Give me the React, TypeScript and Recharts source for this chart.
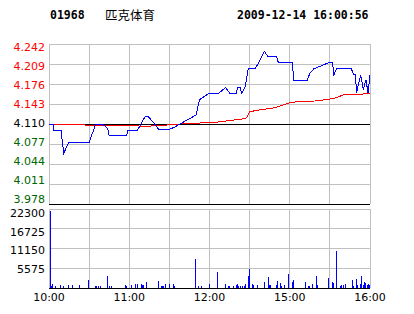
import { Bar, BarChart, CartesianGrid, Line, LineChart, ReferenceLine, XAxis, YAxis } from 'recharts'

const PRE_CLOSE = 4.11

const priceTicks = [3.978, 4.011, 4.044, 4.077, 4.11, 4.143, 4.176, 4.209, 4.242]
const volumeTicks = [0, 5575, 11150, 16725, 22300]
const timeTicks = [0, 30, 60, 90, 120, 150, 180, 210, 240]
const timeLabels = ['10:00', '', '11:00', '', '12:00', '', '15:00', '', '16:00']

// [minute of session, price]
const pricePoints: [number, number][] = [
  [0, 4.11], [3, 4.11], [3.5, 4.099], [9, 4.099], [11, 4.062], [15, 4.08], [30, 4.08],
  [35, 4.11], [40, 4.11], [44, 4.102], [45, 4.091], [58, 4.091], [59, 4.099], [66, 4.099],
  [72, 4.123], [74, 4.123], [79, 4.11], [82, 4.101], [90, 4.101], [94, 4.105], [110, 4.125],
  [112.5, 4.15], [120, 4.161], [127, 4.161], [132, 4.17], [135, 4.161], [140, 4.161],
  [141, 4.17], [143, 4.17], [144, 4.161], [146.5, 4.17], [149, 4.201], [154, 4.201],
  [158, 4.216], [161, 4.23], [163.5, 4.222], [170, 4.222], [171.5, 4.211], [182, 4.211],
  [183, 4.181], [193, 4.181], [195, 4.194], [198, 4.201], [209, 4.211], [212, 4.211],
  [213, 4.191], [215, 4.201], [226, 4.201], [228, 4.191], [229, 4.191], [230, 4.162],
  [231, 4.172], [233, 4.191], [235, 4.167], [237, 4.183], [238.5, 4.161], [240, 4.191],
]

const avgPoints: [number, number][] = [
  [0, 4.11], [26, 4.11], [27, 4.108], [66, 4.108], [68, 4.106], [80, 4.107], [98, 4.11],
  [125, 4.113], [147, 4.119], [148, 4.121], [150, 4.13], [154, 4.132], [169, 4.137],
  [181.5, 4.146], [199, 4.148], [213, 4.152], [220, 4.158], [240, 4.16],
]

// [minute of session, volume]
const volumePoints: [number, number][] = [
  [1, 21800], [2, 600], [3, 1200], [5, 600], [9, 900], [11, 600], [15, 900], [18, 900],
  [23, 900], [30, 2350], [35, 600], [36, 600], [37, 600], [39, 600], [44, 3500],
  [45, 600], [47, 600], [57, 900], [58, 600], [62, 900], [65, 1200], [66, 1200],
  [69, 1200], [70, 900], [71, 900], [73, 1800], [82, 2050], [84, 600], [85, 600],
  [86, 600], [87, 1200], [90, 1200], [93, 1200], [94, 600], [110, 8300], [112, 600],
  [114, 600], [120, 1200], [126, 4500], [132, 1200], [134, 600], [135, 600],
  [138, 600], [140, 900], [141, 1200], [142, 600], [143, 600], [145, 600],
  [146, 600], [147, 1200], [149, 3500], [150, 5450], [152, 1200], [153, 900],
  [156, 900], [161, 1800], [164, 3200], [165, 900], [166, 900], [170, 900],
  [171, 2050], [173, 1500], [174, 600], [176, 900], [179, 4050], [182, 1800],
  [183, 2350], [192, 1800], [194, 600], [195, 600], [197, 1200], [200, 3500],
  [201, 900], [209, 2900], [212, 1800], [213, 1500], [215, 10500], [218, 600],
  [219, 900], [220, 900], [222, 1200], [227, 2350], [228, 600], [230, 2600],
  [231, 900], [233, 1200], [234, 3500], [235, 900], [236, 1800], [237, 1500],
  [238, 900], [239, 1200], [240, 900],
]

const COLORS = {
  up: '#ff0000',
  down: '#006600',
  flat: '#000000',
  price: '#0000ff',
  avg: '#ff0000',
  grid: '#c0c0c0',
  volume: '#0000ff',
}

const FONT = '"DejaVu Sans", Verdana, sans-serif'

const priceData = pricePoints.map(([m, p]) => ({ m, p }))
const avgData = avgPoints.map(([m, a]) => ({ m, a }))
const volumeData = volumePoints.map(([m, v]) => ({ m, v }))

function toneOf(value: number) {
  if (value > PRE_CLOSE + 1e-9) return COLORS.up
  if (value < PRE_CLOSE - 1e-9) return COLORS.down
  return COLORS.flat
}

// labels sit on a slightly tighter pitch than the grid lines
const squeeze = (y: number, top: number, shift: number) => top + shift + (y - top) * 0.95

function PriceTick({ x, y, payload }: any) {
  const v = payload.value as number
  return (
    <text x={x} y={squeeze(y, 44, 3.3)} dy="0.36em" textAnchor="end" fill={toneOf(v)} fontSize={11} fontFamily={FONT}>
      {v.toFixed(3)}
    </text>
  )
}

function PercentTick({ y, payload }: any) {
  const v = payload.value as number
  const pct = ((v - PRE_CLOSE) / PRE_CLOSE) * 100
  const sign = pct > 0.001 ? '+' : pct < -0.001 ? '-' : ''
  const ty = squeeze(y, 44, 3.3)
  const fill = toneOf(v)
  return (
    <g fill={fill} fontSize={11} fontFamily={FONT}>
      <text x={371} y={ty} dy="0.36em">{sign}</text>
      <text x={sign ? 377 : 379} y={ty} dy="0.36em">{Math.abs(pct).toFixed(2)}</text>
      <text x={409} y={ty} dy="0.36em">%</text>
    </g>
  )
}

function VolumeTick({ x, y, payload }: any) {
  const v = payload.value as number
  if (v === 0) return <g />
  return (
    <text x={x} y={squeeze(y, 209, 4)} dy="0.36em" textAnchor="end" fill="#000" fontSize={11} fontFamily={FONT}>
      {v}
    </text>
  )
}

function TimeTick({ x, y, index }: any) {
  return (
    <text x={x} y={y} dy="0.71em" textAnchor="middle" fill="#000" fontSize={11} fontFamily={FONT}>
      {timeLabels[index]}
    </text>
  )
}

export default function App() {
  return (
    <div
      style={{
        position: 'absolute',
        left: 0,
        top: 0,
        width: 414,
        height: 314,
        background: '#ffffff',
        overflow: 'hidden',
        shapeRendering: 'crispEdges',
      }}
    >
      <div
        style={{
          position: 'absolute',
          top: 8,
          left: 50,
          fontFamily: '"DejaVu Sans Mono", monospace',
          fontWeight: 'bold',
          fontSize: 11.5,
          lineHeight: '14px',
          color: '#000',
          whiteSpace: 'pre',
        }}
      >
        01968
      </div>
      <div
        style={{
          position: 'absolute',
          top: 7,
          left: 105,
          fontFamily: '"Noto Sans CJK SC", sans-serif',
          fontSize: 12.5,
          lineHeight: '16px',
          color: '#000',
        }}
      >
        匹克体育
      </div>
      <div
        style={{
          position: 'absolute',
          top: 8,
          left: 237,
          fontFamily: '"DejaVu Sans Mono", monospace',
          fontWeight: 'bold',
          fontSize: 11.5,
          lineHeight: '14px',
          color: '#000',
          whiteSpace: 'pre',
        }}
      >
        2009-12-14 16:00:56
      </div>

      <div style={{ position: 'absolute', left: 0, top: 0 }}>
        <LineChart width={414} height={208} margin={{ top: 44, right: 0, bottom: 4, left: 0 }}>
          <CartesianGrid stroke={COLORS.grid} strokeWidth={1} />
          <XAxis dataKey="m" type="number" domain={[0, 240]} ticks={timeTicks} hide />
          <YAxis
            type="number"
            domain={[3.978, 4.242]}
            ticks={priceTicks}
            width={49}
            axisLine={false}
            tickLine={false}
            tickSize={0}
            tickMargin={4}
            tick={<PriceTick />}
            interval={0}
          />
          <YAxis
            yAxisId="pct"
            orientation="right"
            type="number"
            domain={[3.978, 4.242]}
            ticks={priceTicks}
            width={44}
            axisLine={{ stroke: COLORS.grid }}
            tickLine={false}
            tickSize={0}
            tickMargin={1}
            tick={<PercentTick />}
            interval={0}
          />
          <ReferenceLine y={PRE_CLOSE} stroke="#000" strokeWidth={1} />
          <ReferenceLine y={3.978} stroke="#000" strokeWidth={1} />
          <Line
            data={avgData}
            dataKey="a"
            type="linear"
            stroke={COLORS.avg}
            strokeWidth={1}
            dot={false}
            isAnimationActive={false}
          />
          <Line
            data={priceData}
            dataKey="p"
            type="linear"
            stroke={COLORS.price}
            strokeWidth={1}
            dot={false}
            isAnimationActive={false}
          />
        </LineChart>
      </div>

      <div style={{ position: 'absolute', left: 0, top: 0 }}>
        <BarChart width={414} height={314} data={volumeData} margin={{ top: 209, right: 44, bottom: 0, left: 0 }}>
          <CartesianGrid stroke={COLORS.grid} strokeWidth={1} />
          <XAxis
            dataKey="m"
            type="number"
            domain={[0, 240]}
            ticks={timeTicks}
            interval={0}
            height={26}
            axisLine={{ stroke: '#000' }}
            tickLine={false}
            tickSize={0}
            tickMargin={5}
            tick={<TimeTick />}
          />
          <YAxis
            type="number"
            domain={[0, 22300]}
            ticks={volumeTicks}
            interval={0}
            width={49}
            axisLine={false}
            tickLine={false}
            tickSize={0}
            tickMargin={4}
            tick={<VolumeTick />}
          />
          <Bar dataKey="v" fill={COLORS.volume} barSize={1} isAnimationActive={false} />
        </BarChart>
      </div>
    </div>
  )
}
